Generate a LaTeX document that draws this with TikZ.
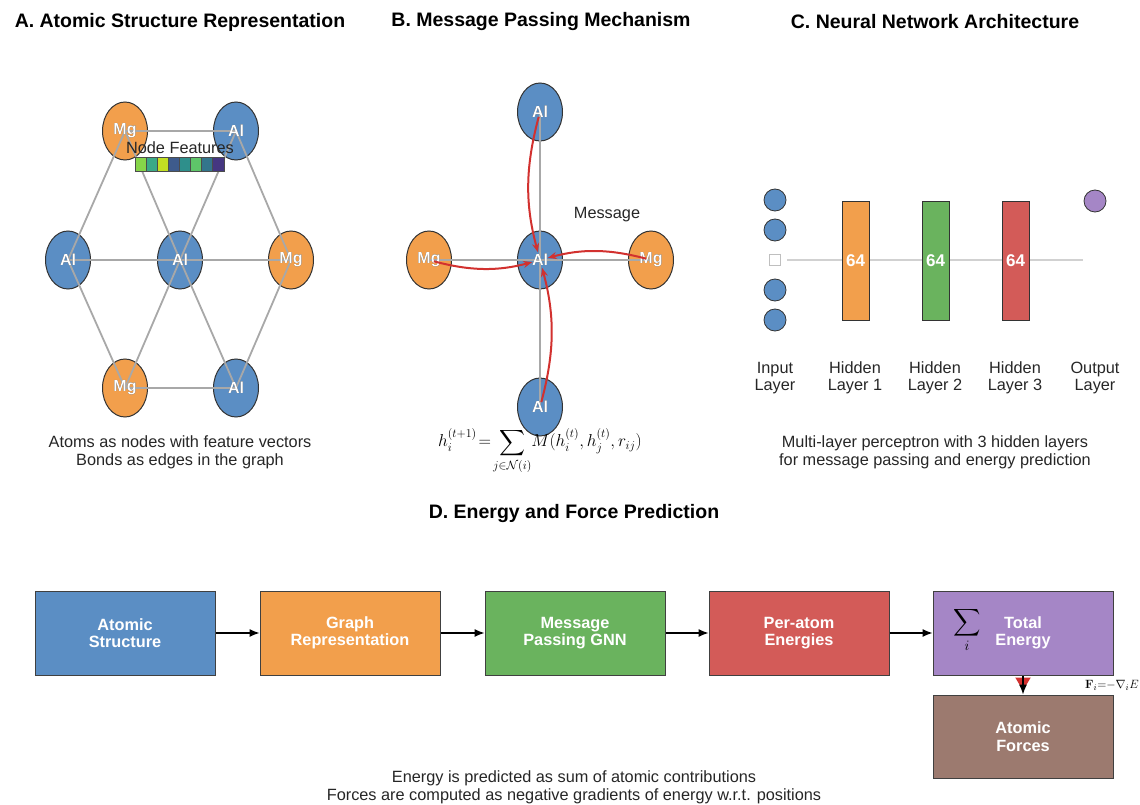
\documentclass[tikz,border=0pt]{standalone}
\usepackage{amsmath}
\usepackage{amssymb}
\usepackage[no-math]{fontspec}
\setmainfont{Liberation Sans}
\usepackage{pdfrender}
\usepackage{tikz}
\usetikzlibrary{shapes.geometric,arrows.meta}

\definecolor{atomblue}{HTML}{5B8EC4}
\definecolor{atomorange}{HTML}{F29F4C}
\definecolor{layergreen}{HTML}{6AB35E}
\definecolor{layerred}{HTML}{D35B58}
\definecolor{layerpurple}{HTML}{A586C6}
\definecolor{forcebrown}{HTML}{9C7A6F}
\definecolor{msgred}{HTML}{D2312F}
\definecolor{bondgray}{HTML}{A8A8A8}

% white label with a black rim
\newcommand{\atomtext}[1]{{\fontsize{16}{18}\selectfont\bfseries
  \makebox[0pt]{\color{black!90}\textpdfrender{TextRenderingMode=FillStroke, LineWidth=2.4pt}{#1}}%
  \makebox[0pt]{\color{white}#1}}}

\tikzset{
  title/.style={font=\fontsize{19.5}{22}\selectfont\bfseries},
  caption/.style={font=\fontsize{16.3}{18}\selectfont, align=center, text=black!85},
  atom/.style={ellipse, draw=black!80, line width=1pt, fill=#1,
    minimum width=45pt, minimum height=58pt, inner sep=0pt},
  bond/.style={draw=bondgray, line width=1.8pt},
  msg/.style={draw=msgred, line width=2pt, -{Stealth[length=9pt,width=7pt]},
    bend right=15, shorten <=5pt, shorten >=8pt},
  neuron/.style={circle, draw=black!80, line width=0.8pt, fill=#1,
    minimum size=22pt, inner sep=0pt},
  layerbar/.style={draw=black!80, line width=0.8pt, fill=#1, minimum width=27pt,
    minimum height=119pt, inner sep=0pt, text=white,
    font=\fontsize{17}{19}\selectfont\bfseries},
  layername/.style={font=\fontsize{16.3}{17.5}\selectfont, align=center, text=black!85},
  stage/.style={draw=black!75, line width=1pt, fill=#1, minimum width=180pt,
    minimum height=84pt, inner sep=0pt, text=white, align=center,
    font=\fontsize{16.3}{17.5}\selectfont\bfseries},
  flow/.style={-{Latex[length=10pt,width=8pt]}, line width=1.2pt}
}

\begin{document}
\begin{tikzpicture}[x=1pt, y=-1pt]
  \useasboundingbox (0,0) rectangle (1140,805);

  % titles
  \node[title] (titleA) at (180,22) {A. Atomic Structure Representation};
  \node[title] (titleB) at (541,22) {B. Message Passing Mechanism};
  \node[title] (titleC) at (935,22) {C. Neural Network Architecture};
  \node[title] (titleD) at (574,513) {D. Energy and Force Prediction};

  % A: atoms on a hexagon
  \node[atom=atomorange] (mgTL) at (125,131) {};
  \node[atom=atomblue] (alTR) at (236,131) {};
  \node[atom=atomblue] (alL) at (68,260) {};
  \node[atom=atomblue] (alC) at (180,260) {};
  \node[atom=atomorange] (mgR) at (291,260) {};
  \node[atom=atomorange] (mgBL) at (125,388) {};
  \node[atom=atomblue] (alBR) at (236,388) {};

  \foreach \a/\b in {mgTL/alTR, mgTL/alL, mgTL/alC, alTR/alC, alTR/mgR,
      alL/alC, alC/mgR, alL/mgBL, alC/mgBL, alC/alBR, mgR/alBR, mgBL/alBR}
    \draw[bond] (\a.center) -- (\b.center);

  \foreach \n/\t in {mgTL/Mg, alTR/Al, alL/Al, alC/Al, mgR/Mg, mgBL/Mg, alBR/Al}
    \node at (\n) {\atomtext{\t}};

  % feature vector
  \node[font=\fontsize{16.3}{18}\selectfont, text=black!85] (featlabel) at (180,148) {Node Features};
  \foreach \c [count=\k from 0] in {86D549, 3AA987, C2DF23, 3E5B8C, 2E8F8B, 5EC569, 33758C, 453781}{
    \definecolor{featcol}{HTML}{\c}
    \node[draw=black!70, line width=0.5pt, fill=featcol, minimum width=11.1pt,
      minimum height=14pt, inner sep=0pt] (feat\k) at (140.5+\k*11.1,164) {};
  }

  \node[caption] (capA) at (180,452) {Atoms as nodes with feature vectors\\Bonds as edges in the graph};

  % B: message passing around one atom
  \node[atom=atomblue] (hub) at (540,260) {};
  \node[atom=atomblue] (nbT) at (540,112) {};
  \node[atom=atomblue] (nbB) at (540,407) {};
  \node[atom=atomorange] (nbL) at (429,260) {};
  \node[atom=atomorange] (nbR) at (651,260) {};

  \foreach \n in {nbT, nbB, nbL, nbR}
    \draw[bond] (hub.center) -- (\n.center);

  \foreach \n/\t in {hub/Al, nbT/Al, nbB/Al, nbL/Mg, nbR/Mg}
    \node at (\n) {\atomtext{\t}};

  \foreach \n in {nbT, nbB, nbL, nbR}
    \draw[msg] (\n.center) to (hub.center);

  \node[font=\fontsize{16.3}{18}\selectfont, text=black!85] (msglabel) at (607,215) {Message};

  \node[font=\fontsize{18}{20}\selectfont] (update) at (540,451)
    {$\displaystyle h_i^{(t+1)}\!=\!\sum_{j\in\mathcal{N}(i)}\! M(h_i^{(t)},h_j^{(t)},r_{ij})$};

  % C: network layers
  \coordinate (wireL) at (787,260);
  \coordinate (wireR) at (1083,260);
  \draw[draw=black!18, line width=2.5pt] (wireL) -- (wireR);

  \node[neuron=atomblue] (in1) at (775,200) {};
  \node[neuron=atomblue] (in2) at (775,230) {};
  \node[draw=black!25, fill=white, line width=0.6pt, minimum size=11pt, inner sep=0pt] (in3) at (775,260) {};
  \node[neuron=atomblue] (in4) at (775,290) {};
  \node[neuron=atomblue] (in5) at (775,320) {};

  \node[layerbar=atomorange] (hid1) at (855.5,260.5) {64};
  \node[layerbar=layergreen] (hid2) at (935.5,260.5) {64};
  \node[layerbar=layerred] (hid3) at (1015.5,260.5) {64};

  \node[neuron=layerpurple] (out1) at (1095,201) {};

  \node[layername] (nameIn) at (775,378) {Input\\Layer};
  \node[layername] (nameH1) at (855,378) {Hidden\\Layer 1};
  \node[layername] (nameH2) at (935,378) {Hidden\\Layer 2};
  \node[layername] (nameH3) at (1015,378) {Hidden\\Layer 3};
  \node[layername] (nameOut) at (1095,378) {Output\\Layer};

  \node[caption] (capC) at (935,452) {Multi-layer perceptron with 3 hidden layers\\for message passing and energy prediction};

  % D: prediction pipeline
  \node[stage=atomblue] (atoms) at (125,633) {Atomic\\Structure};
  \node[stage=atomorange] (graph) at (350,633) {Graph\\Representation};
  \node[stage=layergreen] (gnn) at (575,633) {Message\\Passing GNN};
  \node[stage=layerred] (peratom) at (799,633) {Per-atom\\Energies};
  \node[stage=layerpurple] (total) at (1023,633) {Total\\Energy};
  \node[stage=forcebrown, minimum height=83pt] (forces) at (1023,736.5) {Atomic\\Forces};

  \node[font=\fontsize{19}{22}\selectfont] (sumsign) at (967,630) {$\displaystyle\sum_i$};

  \draw[flow] (atoms) -- (graph);
  \draw[flow] (graph) -- (gnn);
  \draw[flow] (gnn) -- (peratom);
  \draw[flow] (peratom) -- (total);

  \draw[draw=msgred, line width=2pt, -{Triangle[length=13pt,width=15pt]}, shorten >=4pt] (total) -- (forces);
  \draw[flow] (total) -- (forces);
  \node[anchor=east, font=\fontsize{13}{15}\selectfont, inner sep=0pt] (forcelaw) at (1139,685)
    {$\mathbf{F}_i{=}{-}\nabla_i E$};

  \node[caption] (capD) at (574,787) {Energy is predicted as sum of atomic contributions\\Forces are computed as negative gradients of energy w.r.t. positions};
\end{tikzpicture}
\end{document}
